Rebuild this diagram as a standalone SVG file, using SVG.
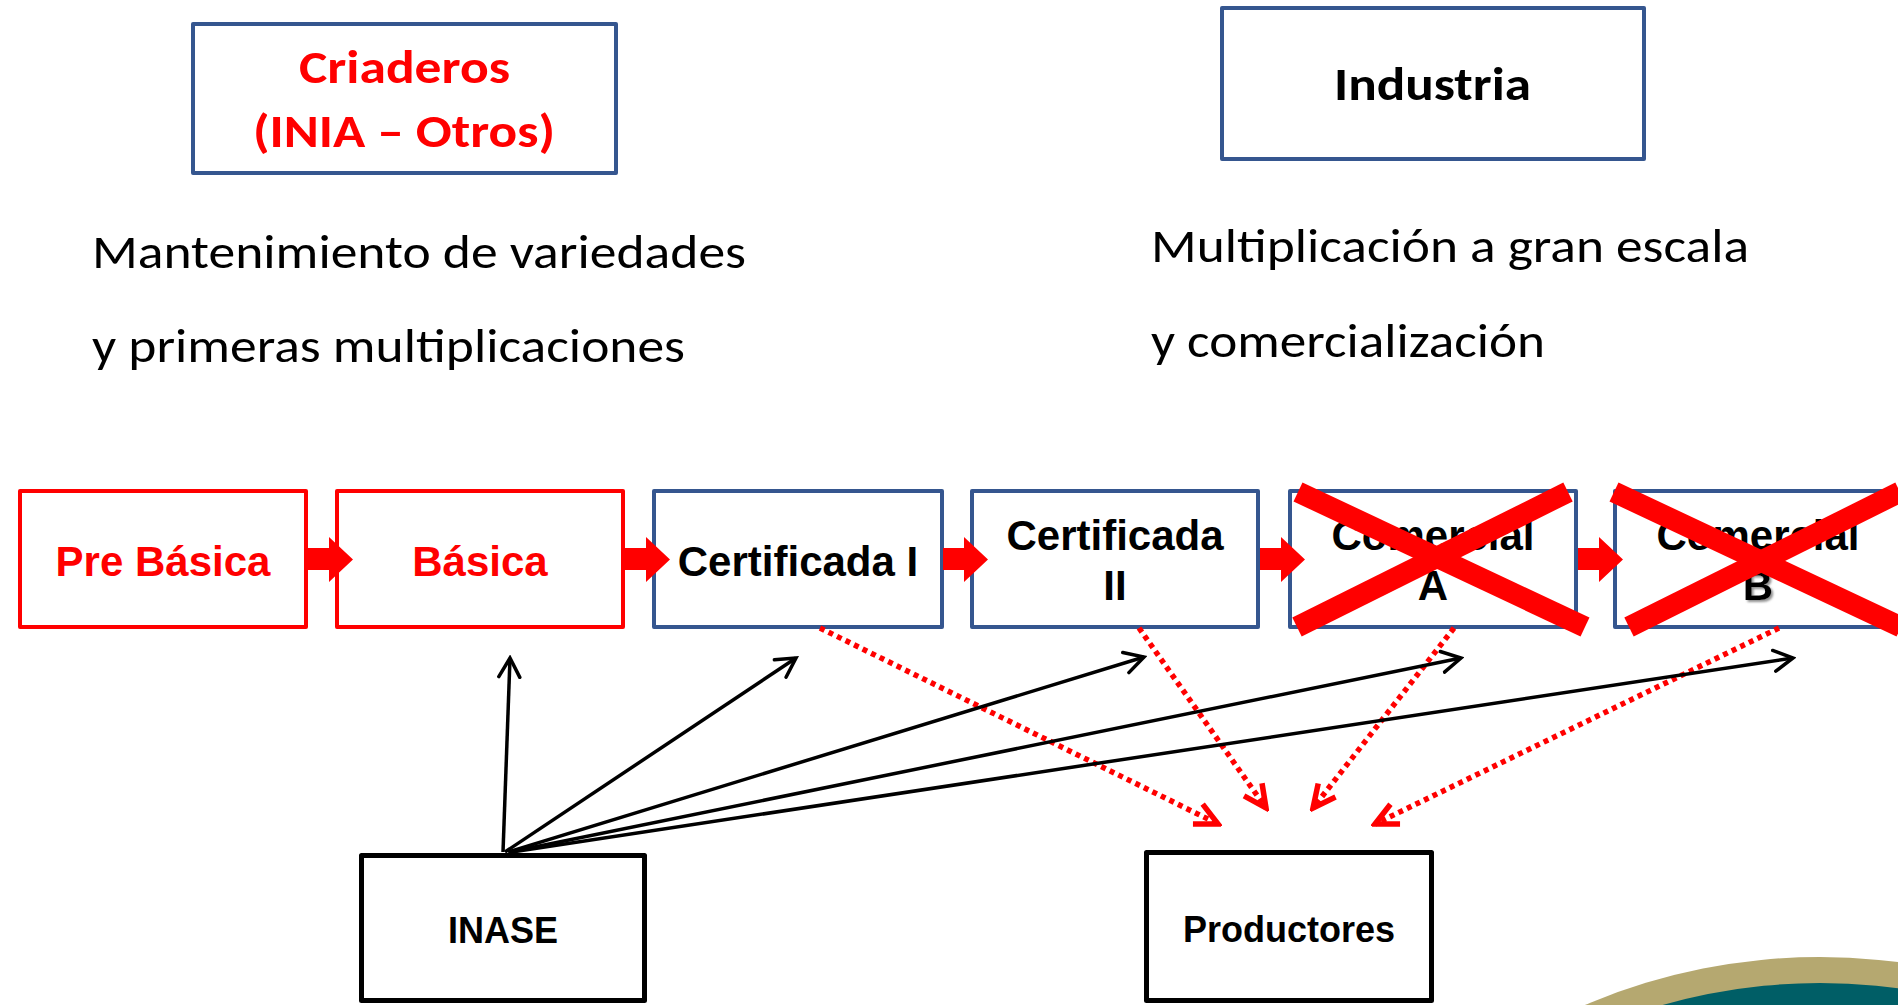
<svg xmlns="http://www.w3.org/2000/svg" width="1898" height="1005" viewBox="0 0 1898 1005">
  <style>
    .bred { fill: #fff; stroke: #FF0000; stroke-width: 4; stroke-linejoin: round; }
    .bblue { fill: #fff; stroke: #35568F; stroke-width: 4; stroke-linejoin: round; }
    .bblack { fill: #fff; stroke: #000; stroke-width: 5; stroke-linejoin: round; }
    .lbl { font-family: "Liberation Sans", Arial, sans-serif; font-weight: bold; font-size: 42px; text-anchor: middle; fill: #000; }
    .lbl-s { font-family: "Liberation Sans", Arial, sans-serif; font-weight: bold; font-size: 36px; text-anchor: middle; fill: #000; }
    .red { fill: #FF0000; }
    .cb { font-family: "Carlito", "Lato", sans-serif; font-weight: bold; font-size: 47px; }
    .cr { font-family: "Carlito", "Lato", sans-serif; font-weight: normal; font-size: 47px; fill: #000; }
    .blk { fill: none; stroke: #000; stroke-width: 3.5; marker-end: url(#openBlack); }
    .dot { fill: none; stroke: #FF0000; stroke-width: 5.5; stroke-dasharray: 5 4.5; marker-end: url(#openRed); }
    .blockarrow { fill: #FF0000; stroke: none; }
    .cross { stroke: #FF0000; stroke-width: 21; stroke-linecap: butt; fill: none; }
    .shadowed { filter: url(#shadow); }
  </style>
  <defs>
    <marker id="openBlack" markerUnits="userSpaceOnUse" viewBox="0 0 24 26" refX="21" refY="13" markerWidth="24" markerHeight="26" orient="auto">
      <path d="M2,2.5 L21,13 L2,23.5" fill="none" stroke="#000" stroke-width="3.5" stroke-linecap="round" stroke-linejoin="miter"/>
    </marker>
    <marker id="openRed" markerUnits="userSpaceOnUse" viewBox="0 0 30 30" refX="26" refY="15" markerWidth="30" markerHeight="30" orient="auto">
      <path d="M3.5,4 L26,15 L3.5,26" fill="none" stroke="#FF0000" stroke-width="5.5" stroke-dasharray="none" stroke-linejoin="miter" stroke-miterlimit="10"/>
    </marker>
    <filter id="shadow" x="-50%" y="-50%" width="200%" height="200%">
      <feDropShadow dx="2" dy="2" stdDeviation="1.2" flood-color="#777" flood-opacity="0.8"/>
    </filter>
  </defs>

  <rect x="0" y="0" width="1898" height="1005" fill="#fff"/>

  <!-- decorative corner -->
  <g id="decor">
    <circle cx="1820" cy="1557" r="600" fill="#B5A870"/>
    <circle cx="1820" cy="1557" r="574" fill="#005E66"/>
  </g>

  <!-- top header boxes -->
  <g id="criaderos">
    <rect class="bblue" x="193" y="24" width="423" height="149"/>
    <text class="cb red" x="404.5" y="83" text-anchor="middle" textLength="211" lengthAdjust="spacingAndGlyphs">Criaderos</text>
    <text class="cb red" x="404" y="147" text-anchor="middle" textLength="302" lengthAdjust="spacingAndGlyphs">(INIA – Otros)</text>
  </g>
  <g id="industria">
    <rect class="bblue" x="1222" y="8" width="422" height="151"/>
    <text class="cb" x="1432.5" y="100" text-anchor="middle" fill="#000" textLength="197" lengthAdjust="spacingAndGlyphs">Industria</text>
  </g>

  <g id="texto-criaderos">
    <text class="cr" x="92" y="268" textLength="654" lengthAdjust="spacingAndGlyphs">Mantenimiento de variedades</text>
    <text class="cr" x="92" y="362" textLength="593" lengthAdjust="spacingAndGlyphs">y primeras multiplicaciones</text>
  </g>
  <g id="texto-industria">
    <text class="cr" x="1151" y="262" textLength="598" lengthAdjust="spacingAndGlyphs">Multiplicación a gran escala</text>
    <text class="cr" x="1151" y="357" textLength="394" lengthAdjust="spacingAndGlyphs">y comercialización</text>
  </g>

  <!-- seed category chain -->
  <g id="pre-basica">
    <rect class="bred" x="20" y="491" width="286" height="136"/>
    <text class="lbl red" x="163" y="576">Pre Básica</text>
  </g>
  <g id="basica">
    <rect class="bred" x="337" y="491" width="286" height="136"/>
    <text class="lbl red" x="480" y="576">Básica</text>
  </g>
  <g id="certificada-1">
    <rect class="bblue" x="654" y="491" width="288" height="136"/>
    <text class="lbl" x="798" y="576">Certificada I</text>
  </g>
  <g id="certificada-2">
    <rect class="bblue" x="972" y="491" width="286" height="136"/>
    <text class="lbl" x="1115" y="550">Certificada</text>
    <text class="lbl" x="1115" y="600">II</text>
  </g>
  <g id="comercial-a">
    <rect class="bblue" x="1290" y="491" width="286" height="136"/>
    <text class="lbl" x="1433" y="550">Comercial</text>
    <text class="lbl" x="1433" y="600">A</text>
    <line class="cross" x1="1298" y1="492" x2="1585" y2="627"/>
    <line class="cross" x1="1297" y1="627" x2="1568" y2="492"/>
  </g>
  <g id="comercial-b">
    <rect class="bblue" x="1615" y="491" width="286" height="136"/>
    <text class="lbl" x="1758" y="550">Comercial</text>
    <text class="lbl shadowed" x="1758" y="600">B</text>
    <line class="cross" x1="1614" y1="492" x2="1901" y2="627"/>
    <line class="cross" x1="1629" y1="627" x2="1900" y2="492"/>
  </g>

  <!-- bottom actors -->
  <g id="inase">
    <rect class="bblack" x="361.5" y="855.5" width="283" height="145"/>
    <text class="lbl-s" x="503" y="943">INASE</text>
  </g>
  <g id="productores">
    <rect class="bblack" x="1146.5" y="852.5" width="285" height="148"/>
    <text class="lbl-s" x="1289" y="942">Productores</text>
  </g>

  <!-- connectors -->
  <g id="connectors">
    <polygon class="blockarrow" points="308,548 329,548 329,537 353,559.5 329,582 329,570 308,570"/>
    <polygon class="blockarrow" points="625,548 646,548 646,537 670,559.5 646,582 646,570 625,570"/>
    <polygon class="blockarrow" points="943,548 964,548 964,537 988,559.5 964,582 964,570 943,570"/>
    <polygon class="blockarrow" points="1260,548 1281,548 1281,537 1305,559.5 1281,582 1281,570 1260,570"/>
    <polygon class="blockarrow" points="1578,548 1599,548 1599,537 1623,559.5 1599,582 1599,570 1578,570"/>

    <line class="dot" x1="820" y1="628" x2="1218" y2="824"/>
    <line class="dot" x1="1139" y1="628" x2="1266" y2="808"/>
    <line class="dot" x1="1454" y1="628" x2="1313" y2="808"/>
    <line class="dot" x1="1779" y1="628" x2="1375" y2="824"/>

    <line class="blk" x1="503" y1="852" x2="510" y2="658"/>
    <line class="blk" x1="505" y1="852" x2="796" y2="658"/>
    <line class="blk" x1="508" y1="852" x2="1144" y2="657"/>
    <line class="blk" x1="510" y1="852" x2="1461" y2="658"/>
    <line class="blk" x1="512" y1="852" x2="1793" y2="658"/>
  </g>
</svg>
